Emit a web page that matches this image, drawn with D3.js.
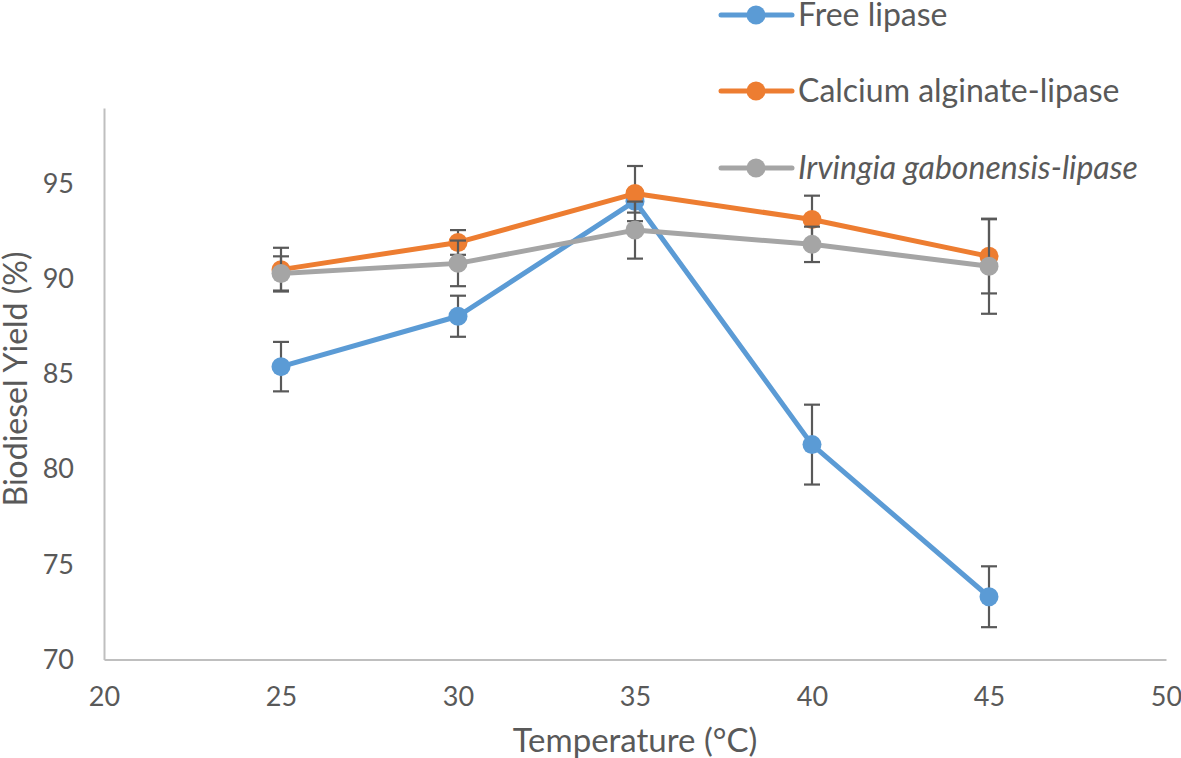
<!DOCTYPE html>
<html><head><meta charset="utf-8">
<script src="https://cdn.jsdelivr.net/npm/d3@7"></script>
<style>body{margin:0;background:#fff}svg{display:block}text{font-family:Lato,"Open Sans",sans-serif;fill:#595959}</style>
</head><body><svg id="c" width="1181" height="758"></svg>
<script>
const temps = [25, 30, 35, 40, 45];
const freeLipase = [85.4, 88.05, 94.1, 81.3, 73.3];
const freeErr = [1.3, 1.08, 0.6, 2.1, 1.6];
const calciumLipase = [90.5, 91.93, 94.5, 93.14, 91.2];
const calciumErr = [1.15, 0.65, 1.45, 1.25, 1.95];
const irvingiaLipase = [90.3, 90.83, 92.58, 91.83, 90.68];
const irvingiaErr = [0.9, 1.2, 1.5, 0.93, 2.5];
const seriesNames = ["Free lipase", "Calcium alginate-lipase", "Irvingia gabonensis-lipase"];
const seriesColors = ["#5b9bd5", "#ed7d31", "#a5a5a5"];
const xTicks = [20, 25, 30, 35, 40, 45, 50];
const yTicks = [70, 75, 80, 85, 90, 95];

const series = [
  {name: seriesNames[0], vals: freeLipase, err: freeErr, color: seriesColors[0], italic: false},
  {name: seriesNames[1], vals: calciumLipase, err: calciumErr, color: seriesColors[1], italic: false},
  {name: seriesNames[2], vals: irvingiaLipase, err: irvingiaErr, color: seriesColors[2], italic: true}
];

const svg = d3.select("#c");
const x = d3.scaleLinear().domain([20, 50]).range([104, 1166]);
const y = d3.scaleLinear().domain([70, 99]).range([659.5, 108]);

// axes
const gx = svg.append("g").attr("transform", "translate(0,659.5)")
  .call(d3.axisBottom(x).tickValues(xTicks).tickSize(0).tickPadding(27));
gx.select(".domain").attr("stroke", "#bfbfbf").attr("stroke-width", 2);
gx.selectAll("text").style("font-size", "27px").attr("fill", "#595959");

const gy = svg.append("g").attr("transform", "translate(104,0)")
  .call(d3.axisLeft(y).tickValues(yTicks).tickSize(0).tickPadding(30));
gy.select(".domain").attr("stroke", "#bfbfbf").attr("stroke-width", 2);
gy.selectAll("text").style("font-size", "27px").attr("fill", "#595959");

svg.append("text").attr("x", 635).attr("y", 752).attr("text-anchor", "middle")
  .style("font-size", "33px").text("Temperature (°C)");
svg.append("text").attr("transform", "translate(27,379) rotate(-90)").attr("text-anchor", "middle")
  .style("font-size", "32px").text("Biodiesel Yield (%)");

const line = d3.line().x((d, i) => x(temps[i])).y(d => y(d));

series.forEach(s => {
  const g = svg.append("g");
  // error bars
  const eb = g.append("g").attr("stroke", "#595959").attr("stroke-width", 2.2);
  s.vals.forEach((v, i) => {
    const cx = x(temps[i]);
    eb.append("line").attr("x1", cx).attr("x2", cx).attr("y1", y(v + s.err[i])).attr("y2", y(v - s.err[i]));
    eb.append("line").attr("x1", cx - 8).attr("x2", cx + 8).attr("y1", y(v + s.err[i])).attr("y2", y(v + s.err[i]));
    eb.append("line").attr("x1", cx - 8).attr("x2", cx + 8).attr("y1", y(v - s.err[i])).attr("y2", y(v - s.err[i]));
  });
  g.append("path").datum(s.vals).attr("d", line).attr("fill", "none")
    .attr("stroke", s.color).attr("stroke-width", 5).attr("stroke-linejoin", "round");
  g.selectAll("circle").data(s.vals).join("circle")
    .attr("cx", (d, i) => x(temps[i])).attr("cy", d => y(d)).attr("r", 9.5).attr("fill", s.color);
});

// legend
const legY = [15, 91, 168];
series.forEach((s, i) => {
  const g = svg.append("g").attr("transform", `translate(0,${legY[i]})`);
  g.append("line").attr("x1", 721).attr("x2", 792).attr("stroke", s.color).attr("stroke-width", 5).attr("stroke-linecap", "round");
  g.append("circle").attr("cx", 756).attr("r", 9.5).attr("fill", s.color);
  g.append("text").attr("x", 798).attr("y", 11).style("font-size", "32px")
    .style("font-style", s.italic ? "italic" : "normal").text(s.name);
});
</script></body></html>
